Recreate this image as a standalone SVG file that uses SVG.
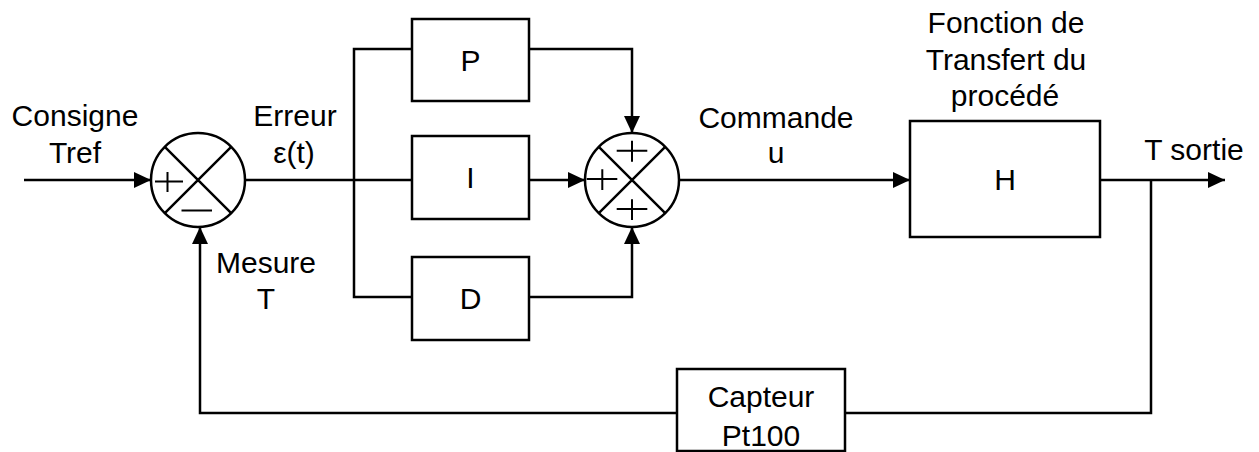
<svg xmlns="http://www.w3.org/2000/svg" width="1259" height="452" viewBox="0 0 1259 452">
<style>
.ln{fill:none;stroke:#000;stroke-width:2.5}
.bx{fill:#fff;stroke:#000;stroke-width:2.5}
.sg{fill:none;stroke:#000;stroke-width:2}
.t{font-family:"Liberation Sans",Arial,sans-serif;font-size:30px;fill:#000;text-anchor:middle}
</style>
<defs>
<marker id="ah" viewBox="0 0 17 16" refX="17" refY="8" markerWidth="17" markerHeight="16" markerUnits="userSpaceOnUse" orient="auto">
<path d="M0,0 L17,8 L0,16 z" fill="#000"/>
</marker>
</defs>
<rect width="1259" height="452" fill="#fff"/>
<g id="connectors">
<path class="ln" d="M24,180 H151" marker-end="url(#ah)"/>
<path class="ln" d="M245,180 H412"/>
<path class="ln" d="M412,49 H354 V297 H412"/>
<path class="ln" d="M529,49 H632 V133" marker-end="url(#ah)"/>
<path class="ln" d="M529,180 H585" marker-end="url(#ah)"/>
<path class="ln" d="M529,297 H632 V227" marker-end="url(#ah)"/>
<path class="ln" d="M679,180 H910" marker-end="url(#ah)"/>
<path class="ln" d="M1100,180 H1225" marker-end="url(#ah)"/>
<path class="ln" d="M1151,180 V413 H845"/>
<path class="ln" d="M677,413 H200 V227" marker-end="url(#ah)"/>
</g>
<g id="sum1">
<circle class="bx" cx="198" cy="180" r="47"/>
<path class="ln" d="M164.8,146.8 L231.2,213.2 M231.2,146.8 L164.8,213.2"/>
<path class="sg" d="M155,181.5 H183 M167.5,172 V192"/>
<path class="sg" d="M181.5,210.5 H212"/>
</g>
<g id="sum2">
<circle class="bx" cx="632" cy="180" r="47"/>
<path class="ln" d="M598.8,146.8 L665.2,213.2 M665.2,146.8 L598.8,213.2"/>
<path class="sg" d="M616.7,150.7 H647.3 M632,140.7 V161.7"/>
<path class="sg" d="M586.7,179 H617.3 M602.3,169.3 V190"/>
<path class="sg" d="M616.7,209 H647.3 M632,199.3 V220"/>
</g>
<g id="P">
<rect class="bx" x="412" y="19" width="117" height="82"/>
<text class="t" x="470.5" y="71">P</text>
</g>
<g id="I">
<rect class="bx" x="412" y="136" width="117" height="83"/>
<text class="t" x="470.5" y="188">I</text>
</g>
<g id="D">
<rect class="bx" x="412" y="257" width="117" height="83"/>
<text class="t" x="470.5" y="309">D</text>
</g>
<g id="H">
<rect class="bx" x="910" y="121" width="190" height="116"/>
<text class="t" x="1005" y="190">H</text>
</g>
<g id="capteur">
<rect class="bx" x="677" y="369" width="168" height="82"/>
<text class="t" x="761" y="407">Capteur</text>
<text class="t" x="761" y="446">Pt100</text>
</g>
<g id="labels">
<text class="t" x="75" y="126">Consigne</text>
<text class="t" x="75" y="163">Tref</text>
<text class="t" x="295" y="126">Erreur</text>
<text class="t" x="294" y="163">ε(t)</text>
<text class="t" x="776" y="128">Commande</text>
<text class="t" x="776" y="163">u</text>
<text class="t" x="1006" y="33">Fonction de</text>
<text class="t" x="1006" y="70">Transfert du</text>
<text class="t" x="1005" y="106">procédé</text>
<text class="t" x="1194" y="160">T sortie</text>
<text class="t" x="266" y="273">Mesure</text>
<text class="t" x="266" y="309">T</text>
</g>
</svg>
